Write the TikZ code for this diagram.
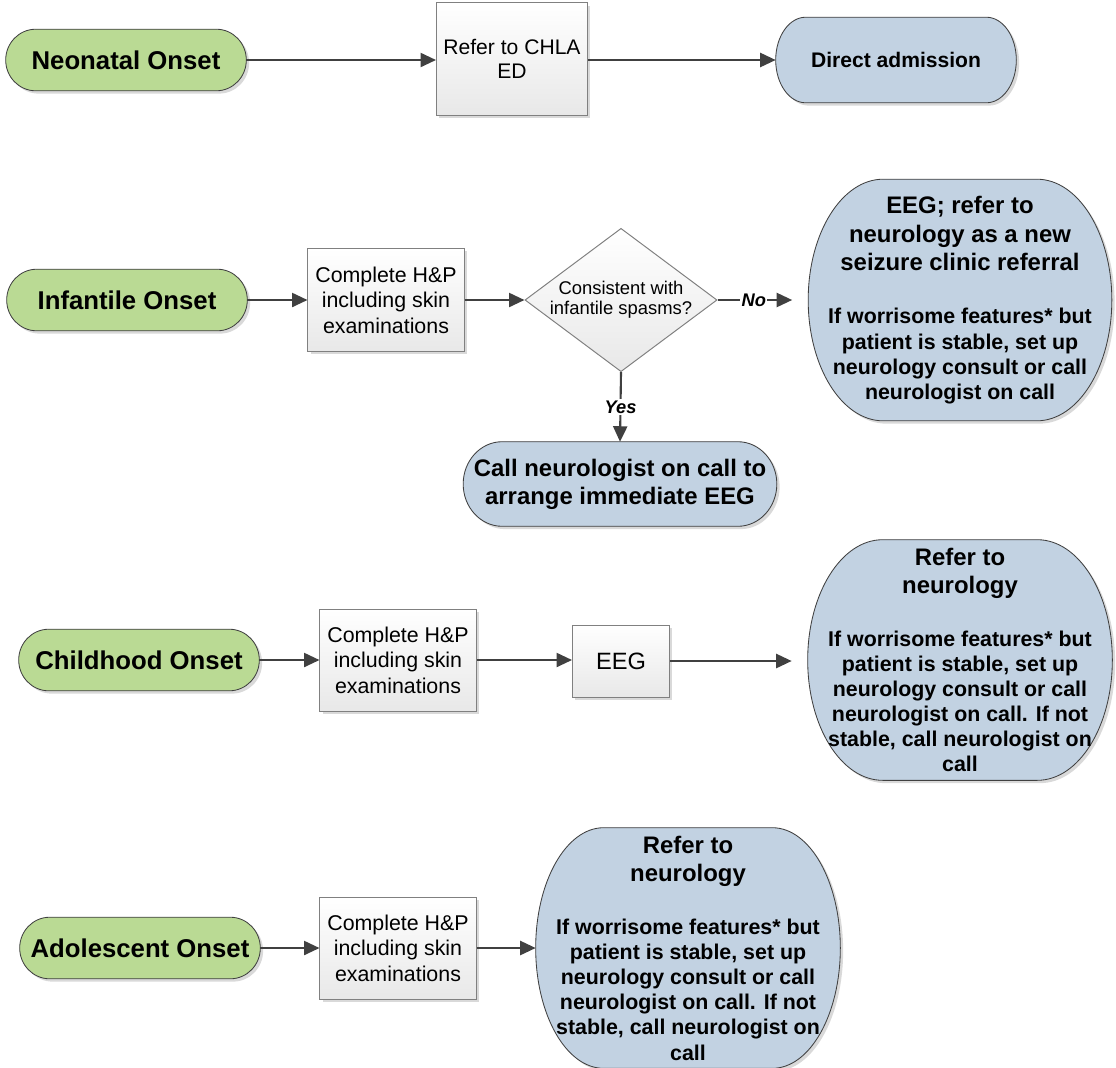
\documentclass[tikz,border=0pt]{standalone}
\usepackage{fontspec}
\setmainfont{Liberation Sans}
\usetikzlibrary{arrows.meta,shapes.geometric,shadows,backgrounds,calc}

\definecolor{onsetgreen}{RGB}{186,218,148}
\definecolor{termblue}{RGB}{194,210,226}
\definecolor{linegray}{RGB}{64,64,64}
\definecolor{boxedge}{RGB}{128,128,128}

\newcommand\hdr[1]{{\fontsize{17}{20}\selectfont #1}}

\tikzset{
  onset/.style={minimum width=6cm, minimum height=1.525cm, inner sep=0pt,
    font=\fontsize{18.3}{21}\selectfont\bfseries},
  term/.style={inner sep=0pt, align=center,
    font=\fontsize{15.2}{17.8}\selectfont\bfseries},
  proc/.style={draw=boxedge, line width=0.7pt, top color=white, bottom color=black!9,
    align=center, inner sep=0pt, font=\fontsize{15.2}{18.1}\selectfont,
    drop shadow={shadow xshift=2pt, shadow yshift=-2pt, fill=black, opacity=0.15}},
  decision/.style={diamond, draw=boxedge, line width=0.7pt, top color=white,
    bottom color=black!9, aspect=1.34, inner sep=0pt, align=center,
    font=\fontsize{13.1}{14.2}\selectfont},
  pill/.style={draw=linegray, line width=0.6pt,
    drop shadow={shadow xshift=2pt, shadow yshift=-2pt, fill=black, opacity=0.15}},
  flow/.style={draw=linegray, line width=1.5pt, -{Triangle[length=11pt,width=10pt]}},
  answer/.style={fill=white, inner sep=1pt, font=\fontsize{13}{15}\selectfont\bfseries\itshape}
}

\begin{document}
\begin{tikzpicture}[x=0.025cm, y=-0.025cm]
  \useasboundingbox (0,0) rectangle (1116,1067);

  % neonatal
  \node[onset] (neo) at (126,60) {Neonatal Onset};
  \node[proc, minimum width=3.775cm, minimum height=2.8cm,
        font=\fontsize{15}{17}\selectfont] (chla) at (512,59) {Refer to CHLA\\ED};
  \node[term, minimum width=6cm, minimum height=2.125cm,
        font=\fontsize{15}{18}\selectfont\bfseries] (adm) at (896,60) {Direct admission};

  % infantile
  \node[onset] (inf) at (127,300) {Infantile Onset};
  \node[proc, minimum width=3.9cm, minimum height=2.575cm] (hp1) at (386,300)
    {Complete H\&P\\including skin\\examinations};
  \node[decision, minimum width=4.8cm, minimum height=3.575cm] (dia) at (621,300)
    {Consistent with\\infantile spasms?};
  \node[term, minimum width=7.575cm, minimum height=6.025cm] (ref1) at (960,300)
    {\hdr{EEG; refer to}\\[2.5pt]\hdr{neurology as a new}\\[2.5pt]\hdr{seizure clinic referral}\\[20pt]
     If worrisome features* but\\patient is stable, set up\\neurology consult or call\\neurologist on call};
  \node[term, minimum width=7.825cm, minimum height=2.1cm,
        font=\fontsize{17}{20}\selectfont\bfseries] (call) at (620,484)
    {Call neurologist on call to\\arrange immediate EEG};

  % childhood
  \node[onset] (chi) at (139,660) {Childhood Onset};
  \node[proc, minimum width=3.9cm, minimum height=2.55cm] (hp2) at (398,660)
    {Complete H\&P\\including skin\\examinations};
  \node[proc, minimum width=2.425cm, minimum height=1.8cm,
        font=\fontsize{16.8}{20}\selectfont] (eeg) at (621,661) {EEG};
  \node[term, minimum width=7.6cm, minimum height=6cm] (ref2) at (960,660)
    {\hdr{Refer to}\\[2.5pt]\hdr{neurology}\\[20pt]
     If worrisome features* but\\patient is stable, set up\\neurology consult or call\\neurologist on call. If not\\stable, call neurologist on\\call};

  % adolescent
  \node[onset] (ado) at (140,948) {Adolescent Onset};
  \node[proc, minimum width=3.9cm, minimum height=2.55cm] (hp3) at (398,948)
    {Complete H\&P\\including skin\\examinations};
  \node[term, minimum width=7.6cm, minimum height=6cm] (ref3) at (688,948)
    {\hdr{Refer to}\\[2.5pt]\hdr{neurology}\\[20pt]
     If worrisome features* but\\patient is stable, set up\\neurology consult or call\\neurologist on call. If not\\stable, call neurologist on\\call};

  % rounded terminals behind the texts
  \begin{scope}[on background layer]
    \foreach \nd/\rr/\cc in {neo/30/onsetgreen, inf/30/onsetgreen, chi/30/onsetgreen,
        ado/30/onsetgreen, adm/30/termblue, call/39/termblue, ref1/75/termblue,
        ref2/75/termblue, ref3/68/termblue}{
      \path[pill, fill=\cc] let \p1=(\nd.north west), \p2=(\nd.south east),
          \n1={(\y1-\y2)/2} in
        (\x1+\rr*0.025cm,\y1) -- (\x2-\rr*0.025cm,\y1)
        arc[start angle=90, end angle=-90, x radius=\rr*0.025cm, y radius=\n1]
        -- (\x1+\rr*0.025cm,\y2)
        arc[start angle=270, end angle=90, x radius=\rr*0.025cm, y radius=\n1] -- cycle;
    }
  \end{scope}

  % connectors
  \draw[flow] (neo.east) -- (chla.west |- neo.east);
  \draw[flow] (chla.east |- neo.east) -- (adm.west);
  \draw[flow] (inf.east) -- (hp1.west |- inf.east);
  \draw[flow] (hp1.east) -- (dia.west);
  \draw[flow, shorten >=0.4cm] (dia.east) -- node[answer, pos=0.4] {No} (ref1.west);
  \draw[flow] (dia.south) -- node[answer] {Yes} (call.north);
  \draw[flow] (chi.east) -- (hp2.west |- chi.east);
  \draw[flow] (hp2.east) -- (eeg.west |- hp2.east);
  \draw[flow, shorten >=0.4cm] (eeg.east) -- (ref2.west |- eeg.east);
  \draw[flow] (ado.east) -- (hp3.west |- ado.east);
  \draw[flow] (hp3.east) -- (ref3.west);
\end{tikzpicture}
\end{document}
